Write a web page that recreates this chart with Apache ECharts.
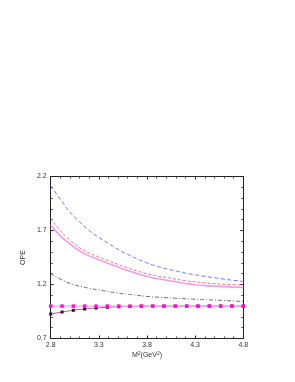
<!DOCTYPE html>
<html><head><meta charset="utf-8">
<script src="https://cdn.jsdelivr.net/npm/echarts@6/dist/echarts.min.js"></script>
<style>html,body{margin:0;padding:0;background:#fff}#c{width:295px;height:382px}</style>
</head><body><div id="c"></div>
<script>
const xFine = [2.8,2.9,3.0,3.1,3.2,3.3,3.4,3.5,3.6,3.7,3.8,3.9,4.0,4.1,4.2,4.3,4.4,4.5,4.6,4.7,4.8];
const blue = [2.115,1.99,1.87,1.78,1.70,1.635,1.58,1.525,1.478,1.437,1.40,1.37,1.345,1.325,1.305,1.29,1.275,1.262,1.25,1.238,1.228];
const red = [1.81,1.70,1.61,1.54,1.49,1.455,1.42,1.385,1.355,1.325,1.30,1.28,1.265,1.25,1.235,1.225,1.215,1.208,1.202,1.198,1.195];
const pink = [1.75,1.65,1.575,1.51,1.465,1.43,1.395,1.36,1.33,1.30,1.275,1.255,1.24,1.225,1.21,1.198,1.19,1.185,1.18,1.176,1.173];
const gray = [1.30,1.25,1.21,1.185,1.165,1.15,1.135,1.12,1.11,1.10,1.09,1.083,1.078,1.073,1.068,1.064,1.06,1.056,1.052,1.047,1.042];
const xMark = [2.8,2.918,3.035,3.153,3.271,3.388,3.506,3.624,3.741,3.859,3.976,4.094,4.212,4.329,4.447,4.565,4.682,4.8];
const magenta = [1.0,1.0,1.0,1.0,1.0,1.0,1.0,1.0,1.0,1.0,1.0,1.0,1.0,1.0,1.0,1.0,1.0,1.0];
const dark = [0.927,0.945,0.961,0.973,0.982,0.989,0.994,0.997,0.999,1.0,1.0,1.0,1.0,1.0,1.0,1.0,1.0,1.0];
const xTicks = [2.8,3.3,3.8,4.3,4.8];
const yTicks = [0.7,1.2,1.7,2.2];

const zip = (xs, ys) => xs.map((x, i) => [x, ys[i]]);
const chart = echarts.init(document.getElementById('c'));
const font = {fontFamily: 'Liberation Sans, Arial, sans-serif', fontSize: 7, color: '#333'};
const axisCommon = {
  type: 'value', min: 2.8, max: 4.8, interval: 0.5,
  axisLine: {show: true, lineStyle: {color: '#222', width: 1}},
  axisTick: {show: true, inside: true, length: 3, lineStyle: {color: '#222'}},
  minorTick: {show: true, splitNumber: 5, length: 2, lineStyle: {color: '#444'}},
  splitLine: {show: false}
};
chart.setOption({
  animation: false,
  grid: {left: 50.7, right: 51.7, top: 176.5, bottom: 43.5},
  xAxis: [
    Object.assign({}, axisCommon, {
      position: 'bottom',
      axisLabel: Object.assign({margin: 3}, font, {formatter: v => v.toFixed(1)}),
      name: 'M{s|2}(GeV{s|2})', nameLocation: 'middle', nameGap: 13,
      nameTextStyle: Object.assign({}, font, {rich: {s: {fontSize: 5, verticalAlign: 'top', padding: [0,0,3,0], color: '#333'}}})
    }),
    Object.assign({}, axisCommon, {position: 'top', axisLabel: {show: false}})
  ],
  yAxis: [
    Object.assign({}, axisCommon, {
      min: 0.7, max: 2.2, interval: 0.5, position: 'left',
      axisLabel: Object.assign({margin: 4}, font, {formatter: v => v.toFixed(1)}),
      name: 'OPE', nameLocation: 'middle', nameGap: 20, nameRotate: 90,
      nameTextStyle: font
    }),
    Object.assign({}, axisCommon, {min: 0.7, max: 2.2, interval: 0.5, position: 'right', axisLabel: {show: false}})
  ],
  series: [
    {type: 'line', data: zip(xFine, blue), showSymbol: false, smooth: true,
     lineStyle: {color: '#6f6ff5', width: 1, type: [4, 2.5]}},
    {type: 'line', data: zip(xFine, red), showSymbol: false, smooth: true,
     lineStyle: {color: '#f07070', width: 1, type: [3, 2]}},
    {type: 'line', data: zip(xFine, pink), showSymbol: false, smooth: true,
     lineStyle: {color: '#f79ae8', width: 1.6}},
    {type: 'line', data: zip(xFine, gray), showSymbol: false, smooth: true,
     lineStyle: {color: '#666', width: 1, type: [4, 2, 1, 2]}},
    {type: 'line', data: zip(xMark, dark), symbol: 'rect', symbolSize: 3, smooth: true,
     itemStyle: {color: '#4a0035'}, lineStyle: {color: '#a06088', width: 1}},
    {type: 'line', data: zip(xMark, magenta), symbol: 'rect', symbolSize: 3.5,
     itemStyle: {color: '#ff10d0'}, lineStyle: {color: '#ffa8f0', width: 1.2}}
  ]
});
</script></body></html>
